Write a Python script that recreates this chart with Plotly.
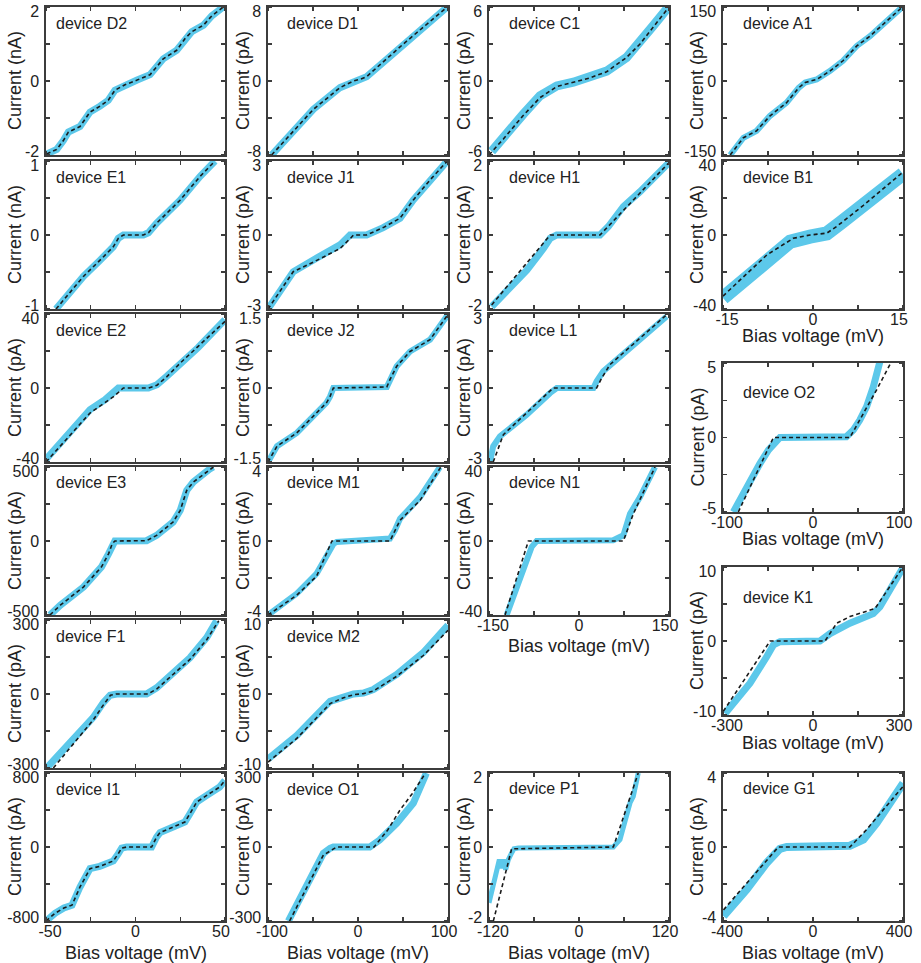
import plotly.graph_objects as go

# ---------------- data ----------------
# column 1 : bias -50..50 mV
d2_v = [-49.6, -44, -40.3, -37.5, -31, -28.2, -25.4, -19.8, -15.2, -11.5, -5.9, 0.6, 8.1, 11.8, 15.5, 23, 27.7, 31.4, 38, 42.6, 49]
d2_i = [-1.97, -1.85, -1.61, -1.38, -1.23, -1.04, -0.84, -0.68, -0.52, -0.25, -0.10, 0.02, 0.17, 0.38, 0.6, 0.83, 1.15, 1.33, 1.51, 1.76, 2.0]
fit_d2_v = d2_v
fit_d2_i = d2_i

e1_v = [-44.4, -29.1, -19.8, -12.4, -9.6, -6.8, 4.4, 7.2, 11.8, 24.9, 36, 44.4]
e1_i = [-1.0, -0.56, -0.34, -0.16, -0.045, 0, 0, 0.03, 0.16, 0.47, 0.79, 1.0]
fit_e1_v = e1_v
fit_e1_i = e1_i

e2_v = [-50, -45, -35, -25.4, -17, -12, -9.6, 7.2, 12, 17.4, 25, 35, 50]
e2_i = [-38.5, -33, -22.3, -11.7, -6.3, -1.8, 0, 0, 1.8, 6.3, 12.6, 21.9, 36.9]
fit_e2_v = [-50, -25.4, -12, -8.7, -6.8, 7.2, 12, 17.4, 25, 35, 50]
fit_e2_i = [-40, -13.5, -4.5, -1.3, 0, 0, 1.5, 6, 13.5, 22.5, 36]

e3_v = [-47.8, -42, -29, -19, -15, -13, -11.5, 6.2, 11.8, 21, 25, 28.6, 32.3, 41.6, 43.5]
e3_i = [-500, -434, -310, -175, -85, -18, 0, 2, 38, 128, 207, 342, 398, 488, 500]
fit_e3_v = e3_v
fit_e3_i = e3_i

f1_v = [-49.6, -40, -30, -23.6, -18, -14.2, -10.5, 6.2, 11.8, 21, 30.4, 39.8, 45.3]
f1_i = [-300, -225, -150, -95, -35, -5, 0, 0, 25, 86, 147, 229, 297]
fit_f1_v = [-45.9, -30, -23.6, -18, -14, -11, 7, 11.8, 21, 30.4, 39.8, 46.5]
fit_f1_i = [-300, -160, -105, -45, -5, 0, 0, 20, 80, 140, 220, 297]

i1_v = [-50, -45, -40, -35.5, -31, -25.4, -20, -12.4, -9.6, -7.7, -5, 9, 11.8, 13.7, 21, 27.6, 30.4, 34.2, 39.8, 47, 50]
i1_i = [-800, -717, -660, -629, -432, -234, -209, -151, -72, -11, 0, 0, 108, 155, 216, 270, 360, 486, 558, 648, 720]
fit_i1_v = i1_v
fit_i1_i = i1_i

# column 2 : bias -100..100 mV
d1_v = [-96, -49.6, -20, -5.2, 4, 9.6, 50, 98.5]
d1_i = [-8, -3.07, -0.72, 0, 0.25, 0.47, 3.97, 7.94]
fit_d1_v = d1_v
fit_d1_i = d1_i

j1_v = [-100, -72, -49.6, -20, -8.9, 9.6, 28, 46.7, 61.5, 80, 98.5]
j1_i = [-3, -1.49, -1.01, -0.4, 0, 0, 0.3, 0.68, 1.42, 2.23, 2.97]
fit_j1_v = [-100, -72, -49.6, -20, -8, -5, 9.6, 28, 46.7, 61.5, 80, 98.5]
fit_j1_i = [-3, -1.49, -1.1, -0.55, -0.12, 0, 0, 0.3, 0.68, 1.42, 2.23, 2.97]

j2_v = [-100, -90, -68, -49.6, -35, -31, -27.4, 32, 35.5, 43, 57.8, 80, 100]
j2_i = [-1.5, -1.18, -0.91, -0.57, -0.3, -0.17, 0, 0.02, 0.17, 0.44, 0.74, 0.98, 1.49]
fit_j2_v = j2_v
fit_j2_i = j2_i

m1_v = [-100, -68, -46, -35, -27, -23.7, 35.5, 41, 46.7, 69, 91]
m1_i = [-4, -2.84, -1.76, -0.86, -0.14, -0.05, 0.13, 0.58, 1.2, 2.37, 4]
fit_m1_v = [-100, -68, -46, -31, -29, 35.5, 41, 46.7, 69, 92]
fit_m1_i = [-4, -2.93, -1.9, -0.15, 0, 0, 0.58, 1.12, 2.2, 4]

m2_v = [-100, -68, -31, -16, -5, 6, 17, 43, 72.6, 100]
m2_i = [-8.8, -5.6, -1.0, -0.3, 0, 0.14, 0.6, 2.65, 5.6, 9.3]
fit_m2_v = [-100, -68, -31, -16, -5, 6, 17, 43, 72.6, 100]
fit_m2_i = [-9.2, -6, -1.3, -0.5, -0.1, 0.05, 0.4, 2.4, 5.2, 8.6]

o1_v = [-77.4, -57, -38.5, -31, -27.4, 13, 24, 43, 61.5, 76]
o1_i = [-300, -148, -26, -5, 0, 0, 28, 96, 178, 300]
fit_o1_v = [-76, -38.5, -23.7, 17.8, 33, 46.7, 60, 75]
fit_o1_i = [-300, -33, 0, 0, 69, 150, 215, 300]

# column 3 : bias -150..150 mV (P1: -120..120 mV)
c1_v = [-145.6, -126, -93, -65, -37, -9.4, 18, 46, 79, 101.7, 124, 149]
c1_i = [-5.7, -4.5, -2.7, -1.2, -0.4, -0.1, 0.27, 0.8, 1.9, 3.1, 4.5, 6]
fit_c1_v = [-150, -126, -93, -65, -37, -9.4, 18, 46, 79, 101.7, 124, 150]
fit_c1_i = [-6, -4.7, -2.8, -1.35, -0.45, -0.1, 0.25, 0.75, 1.9, 3.0, 4.4, 6]

h1_v = [-145.6, -115, -87, -59, -48, -37, 35, 49, 74, 101.7, 149]
h1_i = [-1.94, -1.4, -0.95, -0.36, -0.09, 0, 0, 0.23, 0.77, 1.17, 1.94]
fit_h1_v = [-145.6, -48, 35, 149]
fit_h1_i = [-1.89, 0, 0, 1.94]

l1_v = [-148, -143, -131.7, -87, -48, -37, 24, 29.4, 40.5, 79, 146]
l1_i = [-2.97, -2.36, -1.96, -1.08, -0.2, 0, 0, 0.27, 0.68, 1.49, 2.9]
fit_l1_v = [-143, -126, -43, 29.4, 37.8, 51.7, 146]
fit_l1_i = [-3, -1.89, 0, 0, 0.4, 0.95, 2.97]

n1_v = [-120.6, -106.7, -90, -78.9, -70.6, 57, 74, 85, 101.7, 124, 126.7]
n1_i = [-40, -28.4, -14, -3.2, 0, 0.4, 3.1, 14.7, 23.7, 38, 40]
fit_n1_v = [-123.3, -84.4, 73.9, 90.6, 126.7]
fit_n1_i = [-40, 0, 0, 14.7, 40]

p1_v = [-120, -114.2, -108.9, -106.2, -103.6, -100.9, -97.8, -94.2, -89.8, -86.7, -80.9, 45.8, 54.7, 63.6, 68, 72.4, 79]
p1_i = [-1.51, -1.06, -0.61, -0.34, -0.57, -0.34, -0.61, -0.34, -0.16, -0.05, -0.03, 0, 0.2, 0.87, 1.19, 1.37, 2]
fit_p1_v = [-114.2, -89.8, 45.8, 79]
fit_p1_i = [-2, -0.05, 0, 2]

# column 4
a1_v = [-13.8, -11.6, -9.4, -7.2, -4.4, -2.4, -1.3, 0.6, 2.8, 5, 7.3, 9.5, 11.7, 14.8]
a1_i = [-150, -115, -101, -71, -44, -14, -3, 3, 20, 41, 71, 91, 115, 149]
fit_a1_v = a1_v
fit_a1_i = a1_i

b1_v = [-15, -11.6, -7.7, -3.8, -0.5, 2.3, 4.5, 8.4, 12.8, 15]
b1_i = [-34, -24, -12.6, -3.6, -0.9, 0.9, 6.3, 17, 28, 33]
fit_b1_v = [-15, -7.7, -3.3, -0.5, 2.3, 3.9, 8.4, 15]
fit_b1_i = [-33, -10.8, -1.8, 0, 1, 4.5, 16, 34]

o2_v = [-88.5, -73.7, -59, -49.6, -44, -36.7, 37, 44.8, 52, 59.6, 67, 72.6, 74.4]
o2_i = [-5, -3.3, -1.75, -0.85, -0.4, 0, 0.05, 0.5, 1.17, 2.07, 3.4, 4.5, 5.1]
fit_o2_v = [-83, -44, 41, 70.7, 85.5]
fit_o2_i = [-5, 0, 0, 3.2, 4.9]

k1_v = [-293, -210, -154, -132, -110, 23, 57, 123, 201, 223, 301]
k1_i = [-9.8, -5.7, -2.1, -0.54, -0.09, 0, 1.0, 2.4, 3.7, 4.6, 10]
fit_k1_v = [-299, -143, 40, 79, 123, 207, 300]
fit_k1_i = [-9.5, 0, 0, 2.4, 3.3, 4.4, 10]

g1_v = [-398, -295, -206, -147, -117, 164, 224, 283, 401]
g1_i = [-3.74, -2.3, -0.86, -0.1, 0, 0.07, 0.4, 1.3, 3.45]
fit_g1_v = [-398, -154, 164, 238, 400]
fit_g1_i = [-3.4, 0, 0, 0.94, 3.27]

# ---------------- layout geometry (pixels) ----------------
W, H = 921, 963
COLS = {1: (46, 225), 2: (268, 448), 3: (489, 669), 4: (723, 903)}
ROWS = [(7, 155), (161, 309), (314, 462), (467, 615), (620, 768), (773, 921)]
YTITLE_X = {1: 15, 2: 243, 3: 464, 4: 697}
LABEL_OFF = {1: 8, 2: 17, 3: 18, 4: 18}
INSET_PX = 4  # end tick labels sit slightly inside the frame, as in the reference

BLUE = "#5CC8EA"
FRAME = "#3c3c3c"
FONT = "Liberation Sans, Arial, Helvetica, sans-serif"

panels = [
    # name, col, (top,bottom), xmax, ymax, unit, data v,i, fit v,i, x-title y, blue width, label dy
    ("D2", 1, ROWS[0], 50, 2, "nA", d2_v, d2_i, fit_d2_v, fit_d2_i, None, 7, 16),
    ("E1", 1, ROWS[1], 50, 1, "nA", e1_v, e1_i, fit_e1_v, fit_e1_i, None, 7, 16),
    ("E2", 1, ROWS[2], 50, 40, "pA", e2_v, e2_i, fit_e2_v, fit_e2_i, None, 7, 16),
    ("E3", 1, ROWS[3], 50, 500, "pA", e3_v, e3_i, fit_e3_v, fit_e3_i, None, 7, 16),
    ("F1", 1, ROWS[4], 50, 300, "pA", f1_v, f1_i, fit_f1_v, fit_f1_i, None, 7, 16),
    ("I1", 1, ROWS[5], 50, 800, "pA", i1_v, i1_i, fit_i1_v, fit_i1_i, 953, 7, 16),
    ("D1", 2, ROWS[0], 100, 8, "pA", d1_v, d1_i, fit_d1_v, fit_d1_i, None, 7, 16),
    ("J1", 2, ROWS[1], 100, 3, "pA", j1_v, j1_i, fit_j1_v, fit_j1_i, None, 7, 16),
    ("J2", 2, ROWS[2], 100, 1.5, "pA", j2_v, j2_i, fit_j2_v, fit_j2_i, None, 6, 16),
    ("M1", 2, ROWS[3], 100, 4, "pA", m1_v, m1_i, fit_m1_v, fit_m1_i, None, 6, 16),
    ("M2", 2, ROWS[4], 100, 10, "pA", m2_v, m2_i, fit_m2_v, fit_m2_i, None, 7, 16),
    ("O1", 2, ROWS[5], 100, 300, "pA", o1_v, o1_i, fit_o1_v, fit_o1_i, 953, 7, 16),
    ("C1", 3, ROWS[0], 150, 6, "pA", c1_v, c1_i, fit_c1_v, fit_c1_i, None, 9, 16),
    ("H1", 3, ROWS[1], 150, 2, "pA", h1_v, h1_i, fit_h1_v, fit_h1_i, None, 7, 16),
    ("L1", 3, ROWS[2], 150, 3, "pA", l1_v, l1_i, fit_l1_v, fit_l1_i, None, 6, 16),
    ("N1", 3, ROWS[3], 150, 40, "pA", n1_v, n1_i, fit_n1_v, fit_n1_i, 646, 6, 16),
    ("P1", 3, ROWS[5], 120, 2, "pA", p1_v, p1_i, fit_p1_v, fit_p1_i, 953, 5, 15),
    ("A1", 4, ROWS[0], 15, 150, "pA", a1_v, a1_i, fit_a1_v, fit_a1_i, None, 6, 16),
    ("B1", 4, ROWS[1], 15, 40, "pA", b1_v, b1_i, fit_b1_v, fit_b1_i, 336, 14, 16),
    ("O2", 4, (363, 512), 100, 5, "pA", o2_v, o2_i, fit_o2_v, fit_o2_i, 539, 7, 29),
    ("K1", 4, (567, 715), 300, 10, "pA", k1_v, k1_i, fit_k1_v, fit_k1_i, 743, 7, 30),
    ("G1", 4, ROWS[5], 400, 4, "pA", g1_v, g1_i, fit_g1_v, fit_g1_i, 953, 8, 15),
]


def fmt(v):
    return str(int(v)) if float(v).is_integer() else str(v)


def px(x):
    return x / W


def py(y):
    return 1 - y / H


fig = go.Figure()
annotations = []
layout = dict(
    width=W, height=H,
    margin=dict(l=0, r=0, t=0, b=0),
    paper_bgcolor="white", plot_bgcolor="white",
    showlegend=False,
    font=dict(family=FONT, color="#222222"),
)

for k, (name, col, (top, bot), xmax, ymax, unit, v, i, fv, fi, xt_y, bw, ldy) in enumerate(panels, start=1):
    left, right = COLS[col]
    xa = "x" if k == 1 else f"x{k}"
    ya = "y" if k == 1 else f"y{k}"
    xkey = "xaxis" if k == 1 else f"xaxis{k}"
    ykey = "yaxis" if k == 1 else f"yaxis{k}"

    fig.add_trace(go.Scatter(x=v, y=i, xaxis=xa, yaxis=ya, mode="lines",
                             line=dict(color=BLUE, width=bw), hoverinfo="skip"))
    fig.add_trace(go.Scatter(x=fv, y=fi, xaxis=xa, yaxis=ya, mode="lines",
                             line=dict(color="#1a1a1a", width=1.6, dash="4px,3px"), hoverinfo="skip"))

    common = dict(showline=True, linecolor=FRAME, linewidth=1.6, mirror="ticks",
                  ticks="", ticklen=0,
                  showgrid=False, zeroline=False, automargin=False,
                  ticklabeloverflow="allow",
                  tickfont=dict(family=FONT, size=16, color="#222222"))
    # tick marks (5 per side) drawn as minor ticks; labels inset slightly at the ends
    xdx = 2 * xmax * INSET_PX / (right - left)
    ydy = 2 * ymax * INSET_PX / (bot - top)
    layout[xkey] = dict(common, domain=[px(left), px(right)], range=[-xmax, xmax],
                        anchor=ya, ticklabelstandoff=-5,
                        tickvals=[-xmax + xdx, 0, xmax - xdx],
                        ticktext=([fmt(-xmax), "0", fmt(xmax)] if xt_y else [""] * 3),
                        minor=dict(tickmode="array", tickvals=[-xmax, -xmax / 2, 0, xmax / 2, xmax],
                                   ticks="inside", ticklen=4, tickwidth=1.2, tickcolor=FRAME,
                                   showgrid=False))
    layout[ykey] = dict(common, domain=[py(bot), py(top)], range=[-ymax, ymax],
                        anchor=xa, ticklabelstandoff=2,
                        tickvals=[-ymax + ydy, 0, ymax - ydy],
                        ticktext=[fmt(-ymax), "0", fmt(ymax)],
                        minor=dict(tickmode="array", tickvals=[-ymax, -ymax / 2, 0, ymax / 2, ymax],
                                   ticks="inside", ticklen=4, tickwidth=1.2, tickcolor=FRAME,
                                   showgrid=False))

    annotations.append(dict(text=f"device {name}", xref="paper", yref="paper",
                            x=px(left + LABEL_OFF[col]), y=py(top + ldy),
                            xanchor="left", yanchor="middle", showarrow=False,
                            font=dict(family=FONT, size=16, color="#222222")))
    annotations.append(dict(text=f"Current ({unit})", xref="paper", yref="paper",
                            x=px(YTITLE_X[col]), y=py((top + bot) / 2), textangle=-90,
                            xanchor="center", yanchor="middle", showarrow=False,
                            font=dict(family=FONT, size=18, color="#222222")))
    if xt_y:
        annotations.append(dict(text="Bias voltage (mV)", xref="paper", yref="paper",
                                x=px((left + right) / 2), y=py(xt_y),
                                xanchor="center", yanchor="middle", showarrow=False,
                                font=dict(family=FONT, size=18, color="#222222")))

layout["annotations"] = annotations
fig.update_layout(**layout)
fig.write_html("out.html", config={"displayModeBar": False, "staticPlot": True},
               post_script="document.body.style.margin='0';document.body.style.overflow='hidden';")
